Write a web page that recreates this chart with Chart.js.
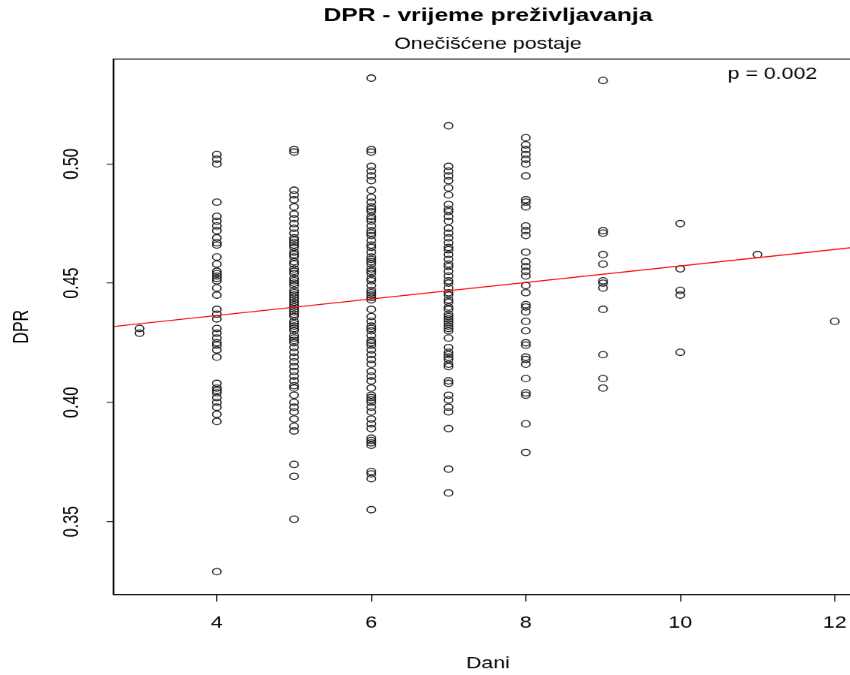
<!DOCTYPE html>
<html>
<head>
<meta charset="utf-8">
<script src="https://cdn.jsdelivr.net/npm/chart.js@4"></script>
<style>
  body { margin: 0; background: #fff; overflow: hidden; }
  #wrap { width: 850px; height: 675px; overflow: hidden; }
  /* the reference is stretched sideways, so the chart is drawn narrow and widened */
  #dprChart { transform: scaleX(1.333); transform-origin: 0 0; }
</style>
</head>
<body>
<div id="wrap"><canvas id="dprChart" width="652" height="675"></canvas></div>
<script>
// DPR values per number of days (Dani)
const dpr3 = [0.431, 0.429];
const dpr4 = [0.504, 0.502, 0.500, 0.484, 0.478, 0.476, 0.474, 0.472, 0.469, 0.467, 0.466, 0.461,
  0.458, 0.455, 0.454, 0.453, 0.452, 0.451, 0.448, 0.445, 0.439, 0.437, 0.435, 0.431, 0.429, 0.427,
  0.425, 0.424, 0.422, 0.419, 0.408, 0.406, 0.405, 0.404, 0.402, 0.400, 0.398, 0.395, 0.392, 0.329];
const dpr5 = [0.506, 0.505, 0.489, 0.487, 0.485, 0.482, 0.479, 0.477, 0.475, 0.473, 0.471, 0.469,
  0.468, 0.467, 0.466, 0.465, 0.463, 0.462, 0.461, 0.459, 0.458, 0.456, 0.455, 0.454, 0.452, 0.451,
  0.450, 0.449, 0.447, 0.446, 0.445, 0.444, 0.443, 0.442, 0.441, 0.440, 0.439, 0.438, 0.437, 0.436,
  0.434, 0.433, 0.432, 0.431, 0.430, 0.428, 0.427, 0.426, 0.425, 0.423, 0.421, 0.419, 0.417, 0.415,
  0.413, 0.411, 0.409, 0.407, 0.406, 0.403, 0.400, 0.398, 0.396, 0.393, 0.390, 0.388, 0.374, 0.369, 0.351];
const dpr6 = [0.536, 0.506, 0.505, 0.499, 0.497, 0.495, 0.493, 0.489, 0.486, 0.484, 0.482, 0.481,
  0.480, 0.478, 0.477, 0.476, 0.474, 0.472, 0.471, 0.470, 0.468, 0.466, 0.465, 0.463, 0.461, 0.460,
  0.459, 0.458, 0.456, 0.455, 0.454, 0.452, 0.451, 0.449, 0.447, 0.446, 0.445, 0.444, 0.443, 0.439,
  0.436, 0.434, 0.432, 0.431, 0.430, 0.428, 0.426, 0.425, 0.424, 0.422, 0.420, 0.418, 0.416, 0.413,
  0.411, 0.409, 0.406, 0.403, 0.402, 0.401, 0.400, 0.398, 0.396, 0.393, 0.391, 0.389, 0.385, 0.384,
  0.383, 0.382, 0.371, 0.370, 0.368, 0.355];
const dpr7 = [0.516, 0.499, 0.497, 0.495, 0.493, 0.490, 0.487, 0.483, 0.481, 0.480, 0.478, 0.476,
  0.473, 0.471, 0.469, 0.467, 0.465, 0.464, 0.462, 0.460, 0.458, 0.457, 0.455, 0.453, 0.451, 0.450,
  0.448, 0.446, 0.445, 0.443, 0.442, 0.440, 0.439, 0.437, 0.436, 0.435, 0.434, 0.433, 0.432, 0.431,
  0.430, 0.427, 0.423, 0.421, 0.420, 0.419, 0.418, 0.416, 0.415, 0.409, 0.408, 0.403, 0.401, 0.398,
  0.396, 0.389, 0.372, 0.362];
const dpr8 = [0.511, 0.508, 0.506, 0.504, 0.502, 0.500, 0.495, 0.485, 0.484, 0.482, 0.474, 0.472,
  0.470, 0.463, 0.459, 0.457, 0.455, 0.453, 0.449, 0.446, 0.441, 0.440, 0.438, 0.434, 0.430, 0.425,
  0.424, 0.419, 0.418, 0.416, 0.410, 0.404, 0.403, 0.391, 0.379];
const dpr9 = [0.535, 0.472, 0.471, 0.462, 0.458, 0.451, 0.450, 0.448, 0.439, 0.420, 0.410, 0.406];
const dpr10 = [0.475, 0.456, 0.447, 0.445, 0.421];
const dpr11 = [0.462];
const dpr12 = [0.434];

const days = [3, 4, 5, 6, 7, 8, 9, 10, 11, 12];
const dprByDay = [dpr3, dpr4, dpr5, dpr6, dpr7, dpr8, dpr9, dpr10, dpr11, dpr12];

// regression line ends
const fitX = [2.66, 12.36];
const fitY = [0.4318, 0.4654];

const xTicks = [4, 6, 8, 10, 12];
const yTicks = [0.35, 0.40, 0.45, 0.50];
const yTickLabels = ['0.35', '0.40', '0.45', '0.50'];

const titleText = 'DPR - vrijeme preživljavanja';
const subtitleText = 'Onečišćene postaje';
const pText = 'p = 0.002';

let points = [];
days.forEach(function(d, i) {
    dprByDay[i].forEach(function(v) { points.push({x: d, y: v}); });
});

const fontFamily = '"Liberation Sans", Arial, sans-serif';

// title, subtitle, p value, rotated y labels and the box round the plot
const rFrame = {
    id: 'rFrame',
    afterDraw(chart) {
        const ctx = chart.ctx;
        const a = chart.chartArea;
        const cx = (a.left + a.right) / 2;
        ctx.save();
        ctx.fillStyle = '#000';
        ctx.textAlign = 'center';
        ctx.textBaseline = 'alphabetic';
        ctx.font = 'bold 18.5px ' + fontFamily;
        ctx.fillText(titleText, cx, 21);
        ctx.font = '16px ' + fontFamily;
        ctx.fillText(subtitleText, cx, 49);
        ctx.textAlign = 'right';
        ctx.fillText(pText, a.right - 34, a.top + 20);

        const yScale = chart.scales.y;
        ctx.textAlign = 'center';
        ctx.textBaseline = 'middle';
        yTicks.forEach(function(v, i) {
            ctx.save();
            ctx.translate(54, yScale.getPixelForValue(v));
            ctx.rotate(-Math.PI / 2);
            ctx.fillText(yTickLabels[i], 0, 0);
            ctx.restore();
        });

        ctx.strokeStyle = '#000';
        ctx.lineWidth = 1;
        ctx.strokeRect(a.left, a.top, a.right - a.left, a.bottom - a.top);
        ctx.restore();
    }
};

new Chart(document.getElementById('dprChart').getContext('2d'), {
    type: 'scatter',
    data: {
        datasets: [{
            label: 'DPR',
            data: points,
            pointStyle: 'circle',
            pointRadius: 3.2,
            pointBorderWidth: 1,
            pointBorderColor: '#222',
            pointBackgroundColor: 'rgba(0,0,0,0)',
            order: 2
        }, {
            type: 'line',
            label: 'fit',
            data: fitX.map(function(x, i) { return {x: x, y: fitY[i]}; }),
            borderColor: '#ff0000',
            borderWidth: 1,
            pointRadius: 0,
            fill: false,
            order: 1
        }]
    },
    options: {
        responsive: false,
        animation: false,
        devicePixelRatio: 1.333,
        layout: { padding: { top: 59, right: 5, left: 0, bottom: 0 } },
        plugins: {
            legend: { display: false },
            tooltip: { enabled: false }
        },
        scales: {
            x: {
                type: 'linear',
                min: 2.66,
                max: 12.36,
                afterBuildTicks: function(scale) {
                    scale.ticks = xTicks.map(function(v) { return {value: v}; });
                },
                afterFit: function(scale) { scale.height = 81; },
                ticks: {
                    color: '#000',
                    padding: 12,
                    font: { family: fontFamily, size: 16 }
                },
                grid: {
                    display: true,
                    drawOnChartArea: false,
                    drawTicks: true,
                    tickLength: 7,
                    color: '#333'
                },
                border: { display: true, color: '#000' },
                title: {
                    display: true,
                    text: 'Dani',
                    color: '#000',
                    padding: { top: 0, bottom: 2 },
                    font: { family: fontFamily, size: 16 }
                }
            },
            y: {
                type: 'linear',
                min: 0.3194,
                max: 0.5440,
                afterBuildTicks: function(scale) {
                    scale.ticks = yTicks.map(function(v) { return {value: v}; });
                },
                afterFit: function(scale) { scale.width = 85; },
                ticks: { display: false },
                grid: {
                    display: true,
                    drawOnChartArea: false,
                    drawTicks: true,
                    tickLength: 5,
                    color: '#333'
                },
                border: { display: true, color: '#000' },
                title: {
                    display: true,
                    text: 'DPR',
                    color: '#000',
                    padding: { top: 7, bottom: 0 },
                    font: { family: fontFamily, size: 16 }
                }
            }
        }
    },
    plugins: [rFrame]
});
</script>
</body>
</html>
